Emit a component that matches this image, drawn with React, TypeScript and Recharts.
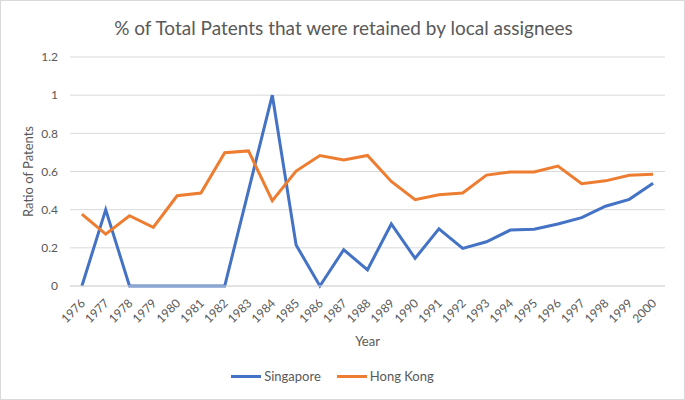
import React from 'react';
import { LineChart, Line, XAxis, YAxis, CartesianGrid, Legend, Label } from 'recharts';

const years = [
  '1976', '1977', '1978', '1979', '1980', '1981', '1982', '1983', '1984', '1985',
  '1986', '1987', '1988', '1989', '1990', '1991', '1992', '1993', '1994', '1995',
  '1996', '1997', '1998', '1999', '2000',
];

const singapore = [
  0, 0.4, 0, 0, 0, 0, 0, 0.5, 1, 0.215,
  0, 0.19, 0.085, 0.325, 0.145, 0.3, 0.197, 0.232, 0.293, 0.297,
  0.325, 0.358, 0.418, 0.454, 0.538,
];

const hongKong = [
  0.377, 0.272, 0.368, 0.307, 0.473, 0.487, 0.698, 0.708, 0.447, 0.602,
  0.684, 0.661, 0.684, 0.548, 0.452, 0.478, 0.487, 0.581, 0.597, 0.597,
  0.628, 0.536, 0.551, 0.58, 0.586,
];

const yTicks = [0, 0.2, 0.4, 0.6, 0.8, 1, 1.2];

const data = years.map((year, i) => ({
  year,
  Singapore: singapore[i],
  'Hong Kong': hongKong[i],
}));

const FONT = 'Lato, "Open Sans", sans-serif';
const GREY = '#595959';

const YearTick = (props: any) => {
  const { x, y, payload } = props;
  return (
    <text
      x={x + 4}
      y={y + 10}
      transform={`rotate(-45, ${x + 4}, ${y + 10})`}
      textAnchor="end"
      fill={GREY}
      fontSize={12}
      fontFamily={FONT}
    >
      {payload.value}
    </text>
  );
};

const LegendContent = () => (
  <div style={{ display: 'flex', justifyContent: 'center', alignItems: 'center', fontFamily: FONT, fontSize: 13, color: GREY }}>
    {[['Singapore', '#4472C4'], ['Hong Kong', '#ED7D31']].map(([name, color]) => (
      <div key={name} style={{ display: 'flex', alignItems: 'center', margin: '0 8px' }}>
        <span style={{ display: 'inline-block', width: 30, height: 3, background: color, marginRight: 3 }} />
        <span>{name}</span>
      </div>
    ))}
  </div>
);

export default function App() {
  return (
    <div
      style={{
        position: 'absolute',
        left: 0,
        top: 0,
        width: 685,
        height: 400,
        boxSizing: 'border-box',
        border: '1px solid #d9d9d9',
        background: '#fff',
      }}
    >
      <div
        style={{
          position: 'absolute',
          top: 15,
          left: 0,
          width: 685,
          textAlign: 'center',
          fontFamily: FONT,
          fontSize: 19,
          color: GREY,
        }}
      >
        % of Total Patents that were retained by local assignees
      </div>
      <div style={{ position: 'absolute', left: -1, top: -1 }}>
        <LineChart width={685} height={400} data={data} margin={{ top: 57, right: 20, left: 0, bottom: 12 }}>
          <CartesianGrid vertical={false} stroke="#d9d9d9" />
          <XAxis
            dataKey="year"
            scale="band"
            height={82}
            interval={0}
            tickLine={false}
            axisLine={{ stroke: '#d9d9d9' }}
            tick={<YearTick />}
          >
            <Label value="Year" position="insideBottom" offset={22} fill={GREY} fontSize={13} fontFamily={FONT} />
          </XAxis>
          <YAxis
            width={70}
            domain={[0, 1.2]}
            ticks={yTicks}
            axisLine={false}
            tickLine={false}
            tick={{ fill: GREY, fontSize: 12, fontFamily: FONT }}
            tickMargin={6}
          >
            <Label
              value="Ratio of Patents"
              angle={-90}
              position="insideLeft"
              offset={28}
              style={{ textAnchor: 'middle' }}
              fill={GREY}
              fontSize={13}
              fontFamily={FONT}
            />
          </YAxis>
          <Legend verticalAlign="bottom" height={20} content={<LegendContent />} />
          <Line dataKey="Singapore" stroke="#4472C4" strokeWidth={3} dot={false} isAnimationActive={false} />
          <Line dataKey="Hong Kong" stroke="#ED7D31" strokeWidth={3} dot={false} isAnimationActive={false} />
        </LineChart>
      </div>
    </div>
  );
}
